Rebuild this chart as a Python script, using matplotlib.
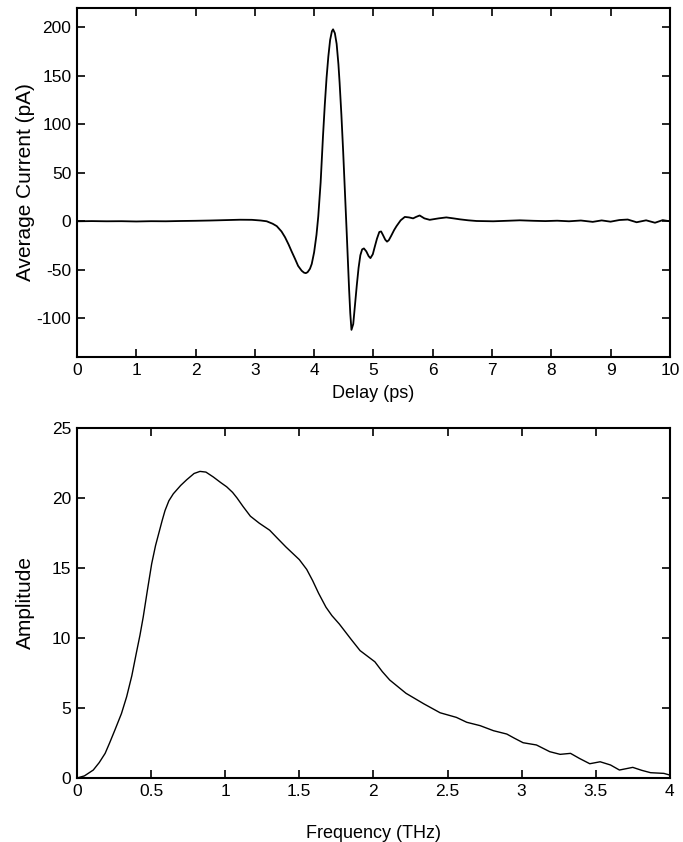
import numpy as np
import matplotlib
matplotlib.use("Agg")
import matplotlib.pyplot as plt

plt.rcParams['font.family'] = ['Liberation Sans', 'DejaVu Sans']
plt.rcParams['axes.unicode_minus'] = False

# time-domain pulse
delay = [0, 0.25, 0.5, 0.75, 1.0, 1.25, 1.5, 1.75, 2.0, 2.25, 2.5, 2.75, 2.95,
         3.1, 3.2, 3.3, 3.37, 3.45, 3.51, 3.57, 3.62, 3.68, 3.73, 3.79, 3.83, 3.86,
         3.89, 3.93, 3.96, 4.0, 4.04, 4.07, 4.11, 4.15, 4.18, 4.21, 4.24, 4.27, 4.3,
         4.32, 4.35, 4.38, 4.41, 4.43, 4.46, 4.49, 4.52, 4.55, 4.59, 4.61, 4.63,
         4.66, 4.69, 4.72, 4.75, 4.78, 4.81, 4.84, 4.88, 4.92, 4.95, 4.99, 5.02,
         5.06, 5.1, 5.13, 5.16, 5.2, 5.23, 5.26, 5.3, 5.35,
         5.39, 5.46, 5.53, 5.6, 5.67, 5.72, 5.78, 5.86, 5.95, 6.1, 6.23, 6.35,
         6.46, 6.6, 6.74, 7.02, 7.25, 7.47, 7.7, 7.9, 8.1, 8.3, 8.5, 8.7, 8.85,
         9.0, 9.15, 9.29, 9.44, 9.6, 9.75, 9.88, 10.0]
current = [0, 0.2, 0, 0.1, -0.2, 0.1, 0, 0.3, 0.5, 0.8, 1.2, 1.6, 1.5,
           0.8, 0.0, -2.5, -5, -10.5, -16.5, -24, -31, -39, -46, -51, -53, -53.5,
           -52.5, -49, -44, -32, -14, 5, 40, 88, 120, 148, 170, 187, 196,
           198, 194, 183, 162, 143, 110, 72, 30, -12, -70, -95, -112,
           -106, -86, -66, -48, -35, -29, -28, -31, -36, -38, -34, -27,
           -18, -11, -10.5, -14, -19, -21, -19.5, -15, -9,
           -5, 1, 4.5, 4, 3, 4.5, 6, 3, 1.5, 3, 4, 3,
           2, 1, 0.3, 0, 0.5, 1, 0.5, 0.2, 0.6, 0, 0.8, -0.6, 0.9,
           -0.4, 1.3, 1.8, -1, 1, -1.5, 1.2, 0]

# spectrum amplitude
freq = [0, 0.05, 0.11, 0.15, 0.19, 0.22, 0.256, 0.3, 0.335, 0.37, 0.40, 0.425,
        0.447, 0.475, 0.504, 0.53, 0.55, 0.575, 0.594, 0.62, 0.65, 0.7, 0.74,
        0.79, 0.83, 0.87, 0.92, 0.97, 1.01, 1.05, 1.08, 1.12, 1.17, 1.23, 1.30,
        1.35, 1.41, 1.46, 1.50, 1.55, 1.59, 1.63, 1.68, 1.72, 1.77, 1.85, 1.91,
        1.96, 2.01, 2.06, 2.11, 2.22, 2.34, 2.45, 2.56, 2.63,
        2.72, 2.81, 2.90, 2.95, 3.01, 3.10, 3.19, 3.26, 3.33, 3.39, 3.46,
        3.53, 3.60, 3.66, 3.75, 3.81, 3.87, 3.96, 4.0]
amplitude = [0, 0.15, 0.57, 1.1, 1.76, 2.5, 3.43, 4.6, 5.8, 7.3, 8.9, 10.2,
             11.5, 13.4, 15.3, 16.6, 17.4, 18.4, 19.1, 19.8, 20.3, 20.9, 21.3,
             21.75, 21.9, 21.85, 21.5, 21.1, 20.8, 20.4, 20.0, 19.4, 18.7, 18.2,
             17.7, 17.15, 16.5, 16.0, 15.6, 14.9, 14.1, 13.2, 12.2, 11.6, 11.0,
             9.9, 9.1, 8.7, 8.3, 7.6, 7.0, 6.05, 5.3, 4.66, 4.33, 3.98,
             3.74, 3.38, 3.14, 2.85, 2.52, 2.36, 1.88, 1.69, 1.76, 1.4, 1.02,
             1.16, 0.93, 0.57, 0.76, 0.55, 0.38, 0.33, 0.21]


def style_axes(ax):
    ax.tick_params(direction='in', top=True, right=True, length=6, width=1.2,
                   labelsize=12.5, pad=4)
    for s in ax.spines.values():
        s.set_linewidth(1.5)


fig = plt.figure(figsize=(6.83, 8.42), dpi=100)

ax1 = fig.add_axes([0.1127, 0.576, 0.868, 0.4145])
ax1.plot(delay, current, color='black', linewidth=1.3)
ax1.set_xlim(0, 10)
ax1.set_ylim(-140, 220)
ax1.set_xticks(range(0, 11))
ax1.set_yticks([-100, -50, 0, 50, 100, 150, 200])
ax1.set_xlabel('Delay (ps)', fontsize=13, labelpad=5)
ax1.set_ylabel('Average Current (pA)', fontsize=15, labelpad=1)
style_axes(ax1)

ax2 = fig.add_axes([0.1127, 0.076, 0.868, 0.4157])
ax2.plot(freq, amplitude, color='black', linewidth=1.0)
ax2.set_xlim(0, 4)
ax2.set_ylim(0, 25)
ax2.set_xticks([0, 0.5, 1, 1.5, 2, 2.5, 3, 3.5, 4])
ax2.set_xticklabels(['0', '0.5', '1', '1.5', '2', '2.5', '3', '3.5', '4'])
ax2.set_yticks([0, 5, 10, 15, 20, 25])
ax2.set_xlabel('Frequency (THz)', fontsize=13, labelpad=19)
ax2.set_ylabel('Amplitude', fontsize=15, labelpad=12)
style_axes(ax2)

fig.savefig('out.png', dpi=100)
